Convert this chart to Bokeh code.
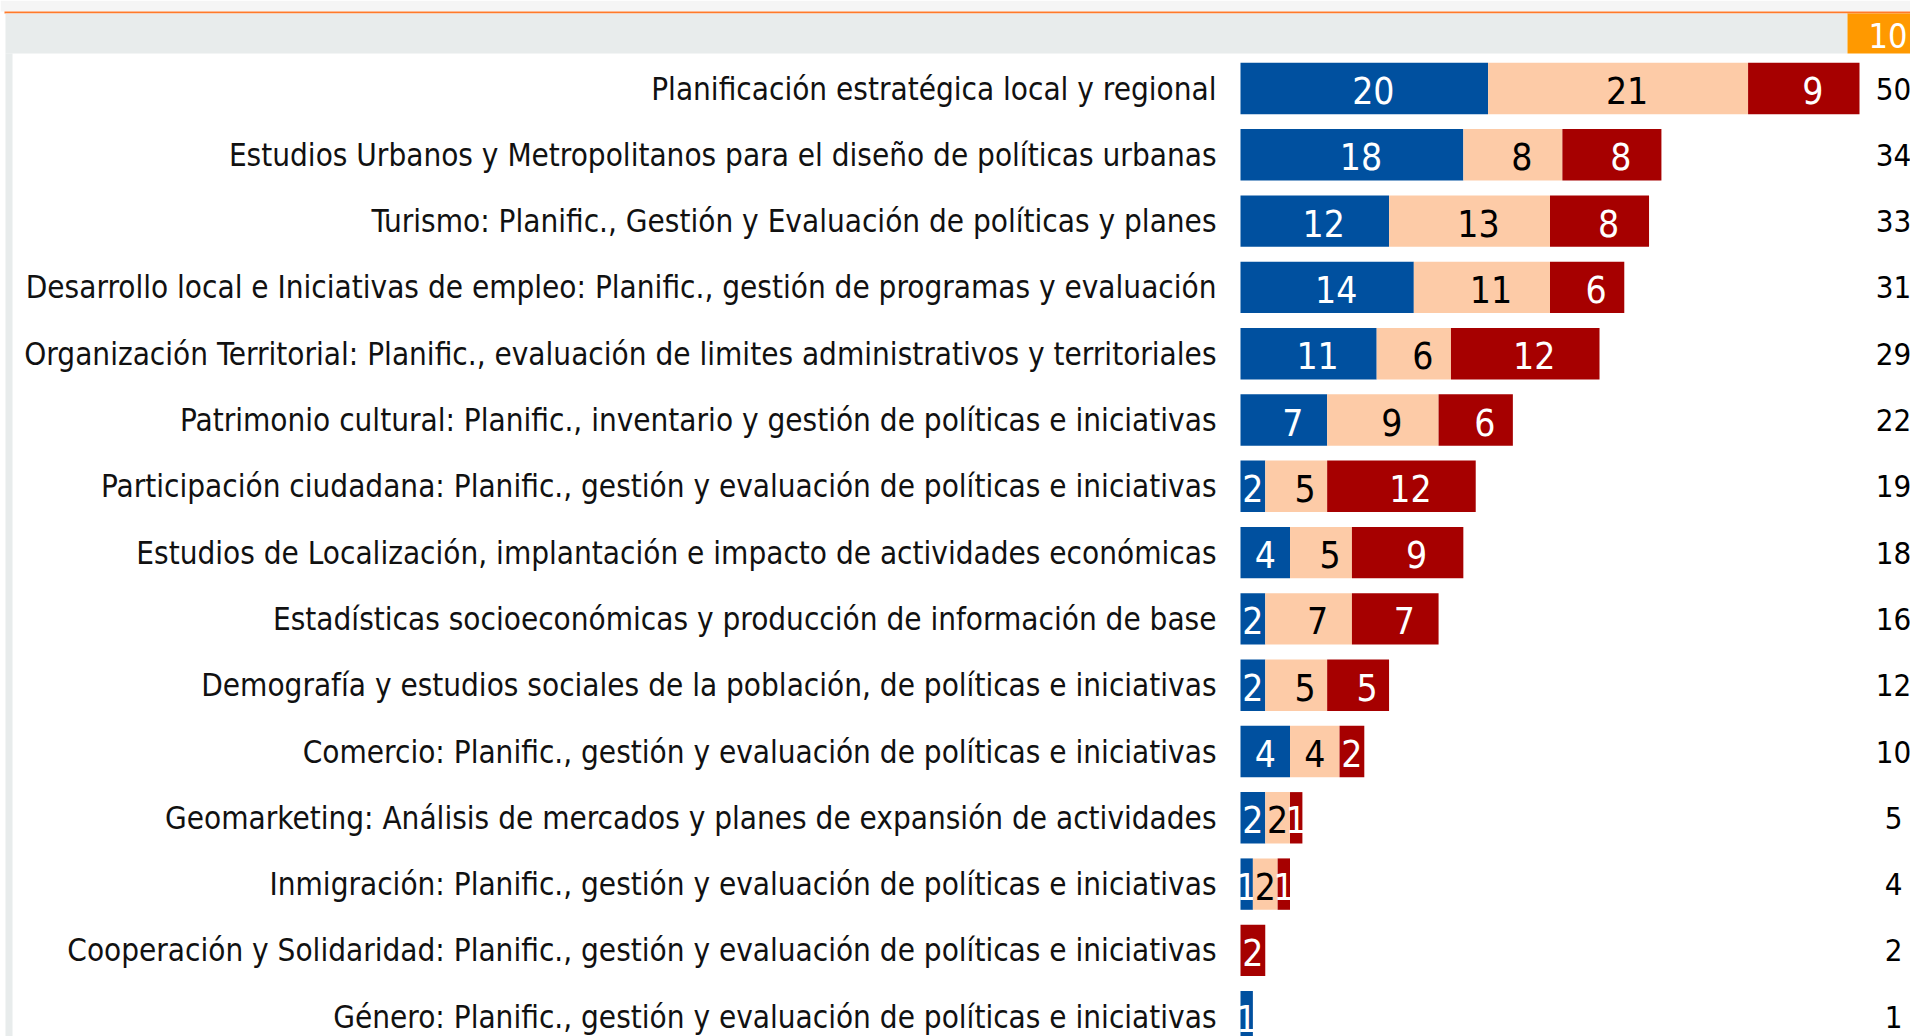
from bokeh.plotting import figure
from bokeh.models import Range1d, BoxAnnotation, ColumnDataSource
from bokeh.core.properties import value
from bokeh.embed import file_html
from bokeh.resources import INLINE

# ---------------- data ----------------
categories = [
    "Planificación estratégica local y regional",
    "Estudios Urbanos y Metropolitanos para el diseño de políticas urbanas",
    "Turismo: Planific., Gestión y Evaluación de políticas y planes",
    "Desarrollo local e Iniciativas de empleo: Planific., gestión de programas y evaluación",
    "Organización Territorial: Planific., evaluación de limites administrativos y territoriales",
    "Patrimonio cultural: Planific., inventario y gestión de políticas e iniciativas",
    "Participación ciudadana: Planific., gestión y evaluación de políticas e iniciativas",
    "Estudios de Localización, implantación e impacto de actividades económicas",
    "Estadísticas socioeconómicas y producción de información de base",
    "Demografía y estudios sociales de la población, de políticas e iniciativas",
    "Comercio: Planific., gestión y evaluación de políticas e iniciativas",
    "Geomarketing: Análisis de mercados y planes de expansión de actividades",
    "Inmigración: Planific., gestión y evaluación de políticas e iniciativas",
    "Cooperación y Solidaridad: Planific., gestión y evaluación de políticas e iniciativas",
    "Género: Planific., gestión y evaluación de políticas e iniciativas",
]
serie_azul = [20, 18, 12, 14, 11, 7, 2, 4, 2, 2, 4, 2, 1, 0, 1]
serie_salmon = [21, 8, 13, 11, 6, 9, 5, 5, 7, 5, 4, 2, 2, 0, 0]
serie_roja = [9, 8, 8, 6, 12, 6, 12, 9, 7, 5, 2, 1, 1, 2, 0]
header_label = "10"

# ---------------- layout / style ----------------
W, H = 1910, 1036
PX_PER_UNIT = 12.38
BAR_ORIGIN_PX = 1240.0   # px where value 0 sits
ROW0_PX = 88.0           # px of first row centre
ROW_PITCH = 66.3
BAR_H = 0.775
FONT = value("DejaVu Sans Condensed")

COL_AZUL = "#00509f"
COL_SALMON = "#fdcba7"
COL_ROJA = "#a60000"
COL_BAND = "#e8ecec"
COL_ORANGE = "#ff9900"
COL_LINE = "#ff7a2a"

x_start = -BAR_ORIGIN_PX / PX_PER_UNIT
x_end = x_start + W / PX_PER_UNIT
y_top = -ROW0_PX / ROW_PITCH
y_bottom = y_top + H / ROW_PITCH


def yd(screen_y):
    """page y (px) -> data y"""
    return (screen_y - ROW0_PX) / ROW_PITCH


def xd(screen_x):
    """page x (px) -> data x"""
    return (screen_x - BAR_ORIGIN_PX) / PX_PER_UNIT


p = figure(width=W, height=H, x_range=Range1d(x_start, x_end),
           y_range=Range1d(start=y_bottom, end=y_top),
           output_backend="svg", toolbar_location=None,
           x_axis_location=None, y_axis_location=None,
           min_border=0, outline_line_color=None,
           background_fill_color="white", border_fill_color="white")
p.grid.visible = False

# header decorations
p.add_layout(BoxAnnotation(top=yd(0), bottom=yd(11), fill_color="#f5f5f5", fill_alpha=1,
                           line_color=None, level="underlay"))
p.add_layout(BoxAnnotation(top=yd(11), bottom=yd(13), left=xd(4), fill_color=COL_LINE,
                           fill_alpha=1, line_color=None, level="underlay"))
p.add_layout(BoxAnnotation(top=yd(13), bottom=yd(53), left=xd(5), right=xd(1847),
                           fill_color=COL_BAND, fill_alpha=1, line_color=None, level="underlay"))
p.add_layout(BoxAnnotation(top=yd(13), bottom=yd(53), left=xd(1847), fill_color=COL_ORANGE,
                           fill_alpha=1, line_color=None, level="underlay"))
p.add_layout(BoxAnnotation(top=yd(53), left=xd(5), right=xd(12), fill_color=COL_BAND,
                           fill_alpha=1, line_color=None, level="underlay"))
p.text(x=[xd(1847)], y=[yd(35)], text=[header_label], x_offset=21, text_align="left",
       text_baseline="middle", text_font=FONT, text_font_size="34px", text_color="white")

# stacked bars
ys = list(range(len(categories)))
series = [(serie_azul, COL_AZUL, "white"), (serie_salmon, COL_SALMON, "black"),
          (serie_roja, COL_ROJA, "white")]
base = [0] * len(categories)
for vals, col, tcol in series:
    left = list(base)
    right = [b + v for b, v in zip(base, vals)]
    src = ColumnDataSource(dict(y=ys, left=left, right=right))
    p.hbar(y="y", left="left", right="right", height=BAR_H, source=src,
           fill_color=col, line_color=None)
    lab = [(ys[i], (left[i] + right[i]) / 2, str(vals[i]), 9 if vals[i] >= 5 else 0)
           for i in range(len(vals)) if vals[i] > 0]
    tsrc = ColumnDataSource(dict(y=[r[0] for r in lab], x=[r[1] for r in lab],
                                 t=[r[2] for r in lab], dx=[r[3] for r in lab]))
    p.text(x="x", y="y", text="t", source=tsrc, text_align="center",
           text_baseline="middle", text_font=FONT, text_font_size="37px",
           text_color=tcol, y_offset=2, x_offset="dx")
    base = right

totals = [a + b + c for a, b, c in zip(serie_azul, serie_salmon, serie_roja)]
TOTAL_X = xd(1893)
p.text(x=[TOTAL_X] * len(totals), y=ys, text=[str(t) for t in totals],
       text_align="center", text_baseline="middle", text_font=FONT,
       text_font_size="31px", text_color="black")

# category labels
p.text(x=[0] * len(categories), y=ys, text=categories, x_offset=-24,
       text_align="right", text_baseline="middle", text_font=FONT,
       text_font_size="31.2px", text_color="#111111")

open("out.html", "w").write(file_html(p, INLINE))
